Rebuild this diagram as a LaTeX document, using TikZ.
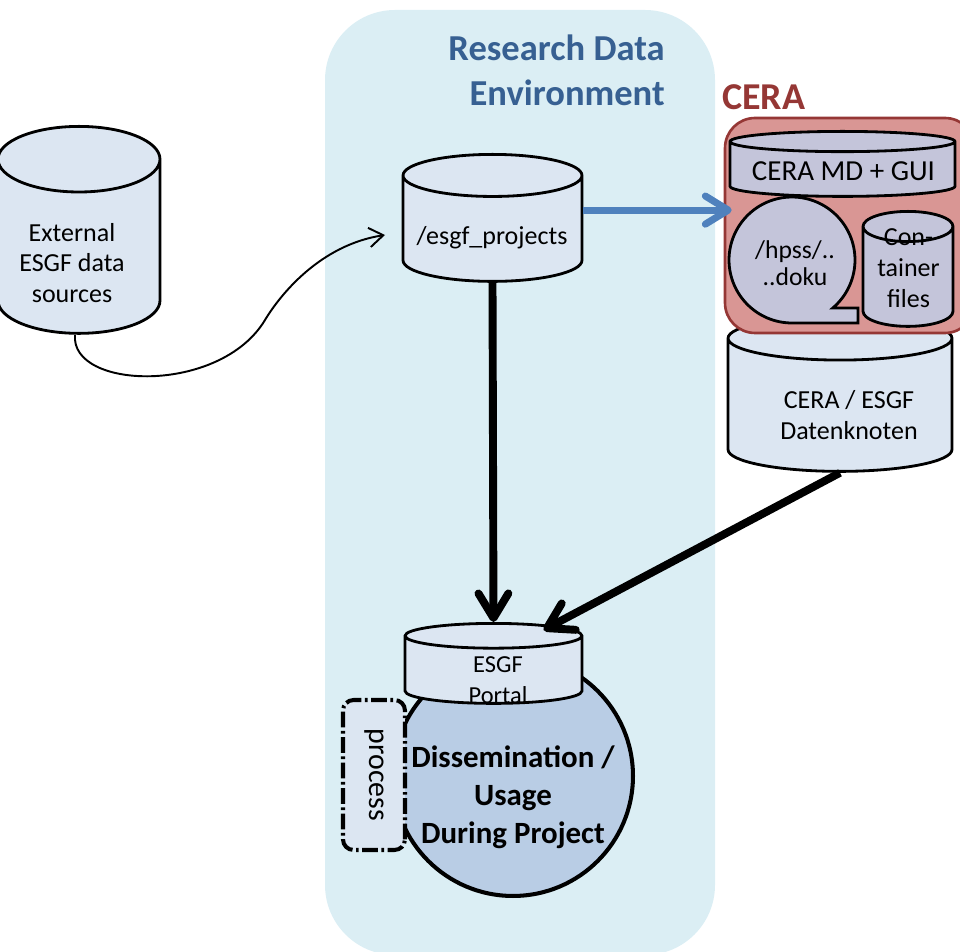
\documentclass[tikz,border=0pt]{standalone}
\usepackage{fontspec}
\setmainfont{Carlito}
\usetikzlibrary{shapes.geometric,arrows.meta}

\definecolor{rdefill}{RGB}{219,238,244}
\definecolor{rdeblue}{RGB}{55,96,146}
\definecolor{dbfill}{RGB}{220,230,242}
\definecolor{dissfill}{RGB}{185,205,229}
\definecolor{cerafill}{RGB}{217,150,148}
\definecolor{cerared}{RGB}{149,55,53}
\definecolor{ceraitem}{RGB}{196,197,218}
\definecolor{flowblue}{RGB}{79,129,189}

\newcommand{\fnorm}{\fontsize{14.8pt}{17.6pt}\selectfont}
\newcommand{\fgui}{\fontsize{16.5pt}{19pt}\selectfont}
\newcommand{\fhpss}{\fontsize{14.6pt}{15.4pt}\selectfont}
\newcommand{\fportal}{\fontsize{13.9pt}{18pt}\selectfont}
\newcommand{\fproc}{\fontsize{17pt}{20pt}\selectfont}
\newcommand{\fdiss}{\fontsize{17.6pt}{21.6pt}\selectfont}
\newcommand{\ftitle}{\fontsize{20.8pt}{25.6pt}\selectfont}
\newcommand{\fcera}{\fontsize{21.6pt}{25pt}\selectfont}

\begin{document}
\begin{tikzpicture}[x=0.02cm, y=-0.02cm]
    \tikzstyle{db} = [cylinder, shape border rotate=90, anchor=north, draw, line width=1.6pt, fill=dbfill, inner sep=0pt]
    \tikzstyle{ceradb} = [db, fill=ceraitem]
    \tikzstyle{dbtext} = [align=center, inner sep=0pt, font=\fnorm]
    \tikzstyle{procbox} = [rectangle, rounded corners=6pt, draw, line width=2.3pt, dash pattern=on 9pt off 2pt on 1.5pt off 2pt, fill=dbfill, font=\fproc]
    \tikzstyle{flow} = [line width=4.5pt, -{Straight Barb[length=14pt, width=17pt, round]}]
    \tikzstyle{push} = [flow, draw=flowblue, line width=4pt, -{Straight Barb[length=13pt, width=16pt, round]}]
    \tikzstyle{pull} = [line width=1.1pt, -{Straight Barb[length=8pt, width=11pt]}]

    \useasboundingbox (0,0) rectangle (960,952);

    % research data environment
    \fill[rdefill, rounded corners=1.4cm] (325,10) rectangle (715,955);
    \node(rdetitle) [anchor=east, align=right, inner sep=0pt, text=rdeblue, font=\ftitle\bfseries] at (665,70) {Research Data\\Environment};

    % external sources
    \node(ext) [db, minimum height=4.14cm, aspect=0.405] at (79,125) {\rule{3.24cm}{0pt}};
    \node(exttext) [dbtext] at (72,263) {External\\ESGF data\\sources};

    % CERA
    \node(knoten) [db, minimum height=3.1cm, aspect=0.195] at (840,315) {\rule{4.48cm}{0pt}};
    \node(knotentext) [dbtext] at (849,415) {CERA / ESGF\\Datenknoten};
    \node(cera) [rectangle, rounded corners=0.6cm, draw=cerared, line width=1.5pt, fill=cerafill, minimum width=5cm, minimum height=4.3cm] at (850,225.5) {};
    \node(ceralabel) [anchor=west, inner sep=0pt, text=cerared, font=\fcera\bfseries] at (722,97) {CERA};
    \node(gui) [ceradb, minimum height=1.3cm, aspect=0.09] at (842.5,130) {\rule{4.5cm}{0pt}};
    \node(guitext) [dbtext, font=\fgui] at (843.5,171) {CERA MD + GUI};
    \filldraw[fill=ceraitem, line width=1.6pt] (792,323) arc[start angle=270, end angle=-49.6, radius=1.26cm] -- (858,308) -- (858,323) -- cycle;
    \node(hpss) [dbtext, font=\fhpss] at (795,263.5) {/hpss/..\\..doku};
    \node(cont) [ceradb, minimum height=2.3cm, aspect=0.335] at (908,210) {\rule{1.8cm}{0pt}};
    \node(conttext) [dbtext] at (908.5,268) {Con-\\tainer\\files};

    % project space
    \node(proj) [db, minimum height=2.54cm, aspect=0.235] at (492.5,153) {\rule{3.58cm}{0pt}};
    \node(projtext) [dbtext] at (492,238) {/esgf\_projects};
    \coordinate(inflow) at (385,235);

    % dissemination
    \node(diss) [circle, draw, line width=2.3pt, fill=dissfill, minimum size=4.8cm, inner sep=0pt] at (513,776) {};
    \node(disstext) [align=center, inner sep=0pt, font=\fdiss\bfseries] at (513,797) {Dissemination /\\Usage\\During Project};
    \node(portal) [db, minimum height=1.6cm, aspect=0.14] at (493.5,622) {\rule{3.54cm}{0pt}};
    \node(portaltext) [dbtext, font=\fportal] at (498,680) {ESGF\\Portal};
    \node(proc) [procbox, rotate=-90, minimum width=3cm, minimum height=1.24cm] at (374,775) {process};

    \draw[pull] ([xshift=-0.08cm]ext.south) .. controls (70,390) and (220,395) .. (265,320) .. controls (280,295) and (320,245) .. (inflow);
    \draw[push] ([yshift=0.38cm]proj.east) -- ([xshift=0.16cm,yshift=0.38cm]proj.east -| cera.west);
    \draw[flow] (proj.south) -- (portal.north);
    \draw[flow] (knoten.south) -- ([xshift=1cm,yshift=-0.16cm]portal.north);
\end{tikzpicture}
\end{document}
